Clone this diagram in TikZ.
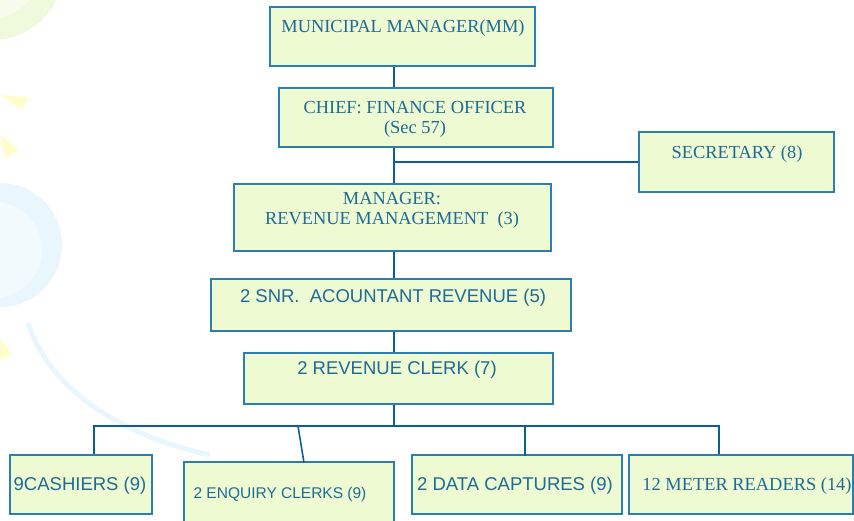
\documentclass[tikz,border=0pt]{standalone}
\usepackage{fontspec}
\setmainfont{Liberation Serif}
\setsansfont{Liberation Sans}
\definecolor{boxfill}{HTML}{EEFAD2}
\definecolor{boxline}{HTML}{2A7FAE}
\definecolor{conn}{HTML}{0B5F95}
\definecolor{txtc}{HTML}{1E6B96}
\definecolor{bggreen}{HTML}{EFF9DC}
\definecolor{bggreenin}{HTML}{F6FBEC}
\definecolor{bgyellow}{HTML}{FFFDCC}
\definecolor{bgblue}{HTML}{EAF6FD}
\definecolor{bgbluein}{HTML}{F3FAFE}
\begin{document}
\begin{tikzpicture}[x=1pt,y=-1pt,
  orgbox/.style={draw=boxline,fill=boxfill,line width=1.4pt,inner sep=0pt,rectangle},
  sertxt/.style={text=txtc,font=\fontsize{18.4}{19.5}\selectfont,align=center,inner sep=0pt},
  santxt/.style={text=txtc,font=\sffamily\fontsize{18.5}{20}\selectfont,align=center,inner sep=0pt},
  link/.style={draw=conn,line width=2.7pt}]
\useasboundingbox (0,0) rectangle (854,520);
% faint background decorations
\fill[bggreen] (-8,-32) circle (72);
\fill[bggreenin] (-14,-38) circle (58);
\fill[bgyellow] (0,95) -- (29,97) -- (22,110) -- cycle;
\fill[bgyellow] (0,135) -- (19,150) -- (5,158) -- cycle;
\fill[bgyellow] (0,338) -- (12,355) -- (0,360) -- cycle;
\fill[bgblue] (0,245) circle (62);
\fill[bgbluein] (-6,250) circle (48);
\draw[bgblue,line width=5pt] (28,323) .. controls (50,390) and (120,435) .. (210,455);
% boxes
\node[orgbox,minimum width=265,minimum height=59] (mm) at (402.5,36.5) {};
\node[orgbox,minimum width=274,minimum height=59] (cfo) at (416,117.5) {};
\node[orgbox,minimum width=195,minimum height=60] (sec) at (736.5,162) {};
\node[orgbox,minimum width=317,minimum height=67] (mgr) at (392.5,217.5) {};
\node[orgbox,minimum width=360,minimum height=52] (snr) at (391,305) {};
\node[orgbox,minimum width=309,minimum height=51] (rc) at (398.5,378.5) {};
\node[orgbox,minimum width=142,minimum height=59] (cash) at (81,484.5) {};
\node[orgbox,minimum width=210,minimum height=70] (enq) at (289,497) {};
\node[orgbox,minimum width=210,minimum height=59] (dc) at (517,484.5) {};
\node[orgbox,minimum width=224,minimum height=59] (mr) at (741,484.5) {};
% texts
\node[sertxt] (mmt) at (403,28) {MUNICIPAL MANAGER(MM)};
\node[sertxt] (cfot) at (415,119.5) {CHIEF: FINANCE OFFICER\\(Sec 57)};
\node[sertxt] (sect) at (737,154) {SECRETARY (8)};
\node[sertxt] (mgrt) at (392,210.5) {MANAGER:\\REVENUE MANAGEMENT\ \ (3)};
\node[santxt] (snrt) at (393,298) {2 SNR.\ \ ACOUNTANT REVENUE (5)};
\node[santxt] (rct) at (397,370) {2 REVENUE CLERK (7)};
\node[santxt] (casht) at (80,486) {9CASHIERS (9)};
\node[santxt,font=\sffamily\fontsize{15.5}{17}\selectfont] (enqt) at (280,494) {2 ENQUIRY CLERKS (9)};
\node[santxt] (dct) at (515,486) {2 DATA CAPTURES (9)};
\node[sertxt] (mrt) at (747,486) {12 METER READERS (14)};
% connectors
\coordinate (trunk) at (394,0);
\coordinate (secjoin) at (394,162);
\coordinate (busL) at (94,426);
\coordinate (busM) at (394,426);
\coordinate (busR) at (719,426);
\coordinate (enqtop) at (298,426);
\draw[link] (mm.south -| trunk) -- (cfo.north -| trunk);
\draw[link] (cfo.south -| trunk) -- (mgr.north -| trunk);
\draw[link] (secjoin) -- (sec.west);
\draw[link] (mgr.south -| trunk) -- (snr.north -| trunk);
\draw[link] (snr.south -| trunk) -- (rc.north -| trunk);
\draw[link] (rc.south -| trunk) -- (busM);
\draw[link,line cap=rect] (busL) -- (busR);
\draw[link] (busL) -- (cash.north -| busL);
\draw[link,line width=1.6pt] (enqtop) -- (304,462.7);
\draw[link] (525,426) -- (525,455.7);
\draw[link] (busR) -- (mr.north -| busR);
\end{tikzpicture}
\end{document}
